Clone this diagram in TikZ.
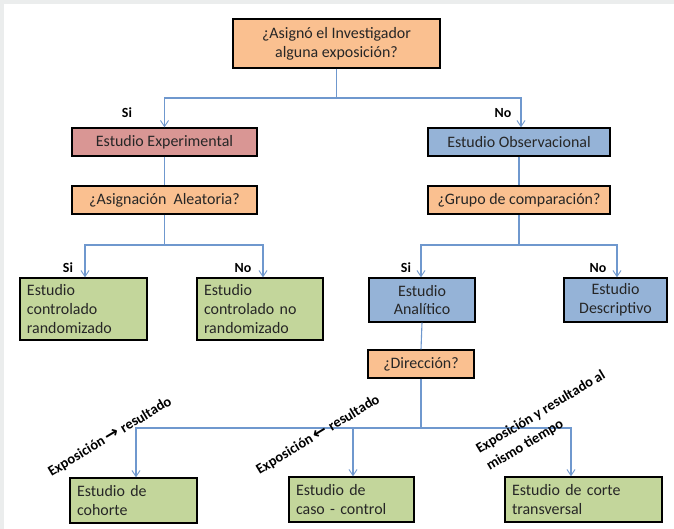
\documentclass[tikz,border=0pt]{standalone}
\usepackage{fontspec}
\setmainfont{Carlito}
\newfontfamily\symfnt{DejaVu Sans}
\usetikzlibrary{arrows.meta,calc}
\definecolor{cOrange}{HTML}{FAC090}
\definecolor{cPink}{HTML}{D99694}
\definecolor{cBlue}{HTML}{95B3D7}
\definecolor{cGreen}{HTML}{C3D69B}
\definecolor{cLine}{HTML}{6F98CE}
\definecolor{cFrame}{HTML}{EBEDED}
\newcommand{\bigarr}[1]{{\symfnt\bfseries\fontsize{17}{17}\selectfont #1}}
\begin{document}
\begin{tikzpicture}[x=1bp,y=-1bp,
  box/.style={draw=black,line width=1.4bp,inner sep=0pt,align=center,
    font=\fontsize{16}{19}\selectfont,text=black!85},
  lbox/.style={box,align=left,text width=#1},
  conn/.style={draw=cLine,line width=1.1bp},
  arr/.style={conn,-{Straight Barb[length=6bp,width=8bp,line width=0.9bp]}},
  lbl/.style={font=\fontsize{14}{16}\selectfont\bfseries,inner sep=0pt},
  rlbl/.style={font=\fontsize{14.5}{20}\selectfont\bfseries,inner sep=0pt,rotate=#1,align=left}
]
\useasboundingbox (0,0) rectangle (674,529);
\fill[cFrame] (0,0) rectangle (674,529);
\fill[white] (4,4) rectangle (674,529);

% boxes
\node[box,fill=cOrange,minimum width=207bp,minimum height=49bp] (top) at (336.5,43.5)
  {¿Asignó el Investigador\\alguna exposición?};
\node[box,fill=cPink,minimum width=185bp,minimum height=28bp] (exp) at (164.5,142) {Estudio Experimental};
\node[box,fill=cBlue,minimum width=182bp,minimum height=28bp] (obs) at (519,142) {Estudio Observacional};
\node[box,fill=cOrange,minimum width=185bp,minimum height=28bp] (asig) at (164.5,200) {¿Asignación\ \ Aleatoria?};
\node[box,fill=cOrange,minimum width=182bp,minimum height=28bp] (grupo) at (519,200) {¿Grupo de comparación?};
\node[lbox=113bp,fill=cGreen,minimum height=62bp,inner xsep=7bp] (rct) at (83.5,309)
  {Estudio\\controlado\\randomizado};
\node[lbox=112bp,fill=cGreen,minimum height=62bp,inner xsep=7bp] (nrct) at (260,309)
  {Estudio\\controlado no\\randomizado};
\node[box,fill=cBlue,minimum width=106bp,minimum height=44bp] (ana) at (422,300) {Estudio\\Analítico};
\node[box,fill=cBlue,minimum width=103bp,minimum height=44bp] (desc) at (615.5,300) {Estudio\\Descriptivo};
\node[box,fill=cOrange,minimum width=106bp,minimum height=28bp] (dir) at (421,364) {¿Dirección?};
\node[lbox=113bp,fill=cGreen,minimum height=45bp,inner xsep=7bp] (coh) at (133.5,500.5)
  {Estudio de\\cohorte};
\node[lbox=111bp,fill=cGreen,minimum height=45bp,inner xsep=7bp] (caso) at (351.5,499.5)
  {Estudio de\\caso - control};
\node[lbox=143bp,fill=cGreen,minimum height=45bp,inner xsep=7bp] (corte) at (583.5,499.5)
  {Estudio de corte\\transversal};

% connectors
\coordinate (j1) at (336.5,98);
\draw[conn] (top.south) -- (j1);
\draw[arr] (j1) -| (exp.north);
\draw[arr] (j1) -| ([xshift=2bp]obs.north);
\draw[conn] (exp.south) -- (asig.north);
\draw[conn] (obs.south) -- (grupo.north);
\coordinate (j2) at (164.5,245);
\draw[conn] (asig.south) -- (j2);
\draw[arr] (j2) -| ([xshift=1.5bp]rct.north);
\draw[arr] (j2) -| ([xshift=3bp]nrct.north);
\coordinate (j3) at (519,245);
\draw[conn] (grupo.south) -- (j3);
\draw[arr] (j3) -| ([xshift=-1bp]ana.north);
\draw[arr] (j3) -| ([xshift=1.5bp]desc.north);
\draw[conn] (ana.south) -- (dir.north);
\coordinate (j4) at (421,428);
\draw[conn] (dir.south) -- (j4);
\draw[arr] (j4) -| ([xshift=2.5bp]coh.north);
\draw[arr] (j4) -| ([xshift=1.5bp]caso.north);
\draw[arr] (j4) -| ([xshift=-12.5bp]corte.north);

% labels
\node[lbl] (si1) at (127,113) {Si};
\node[lbl] (no1) at (503,113) {No};
\node[lbl] (si2) at (68,268) {Si};
\node[lbl] (no2) at (243,268) {No};
\node[lbl] (si3) at (406,268) {Si};
\node[lbl] (no3) at (598,268) {No};
\node[rlbl=31] (l1) at (110,437) {Exposición \bigarr{→} resultado};
\node[rlbl=31] (l2) at (318,435) {Exposición \bigarr{←} resultado};
\node[rlbl=31] (l3) at (546,421) {Exposición y resultado al\\mismo tiempo};
\end{tikzpicture}
\end{document}
